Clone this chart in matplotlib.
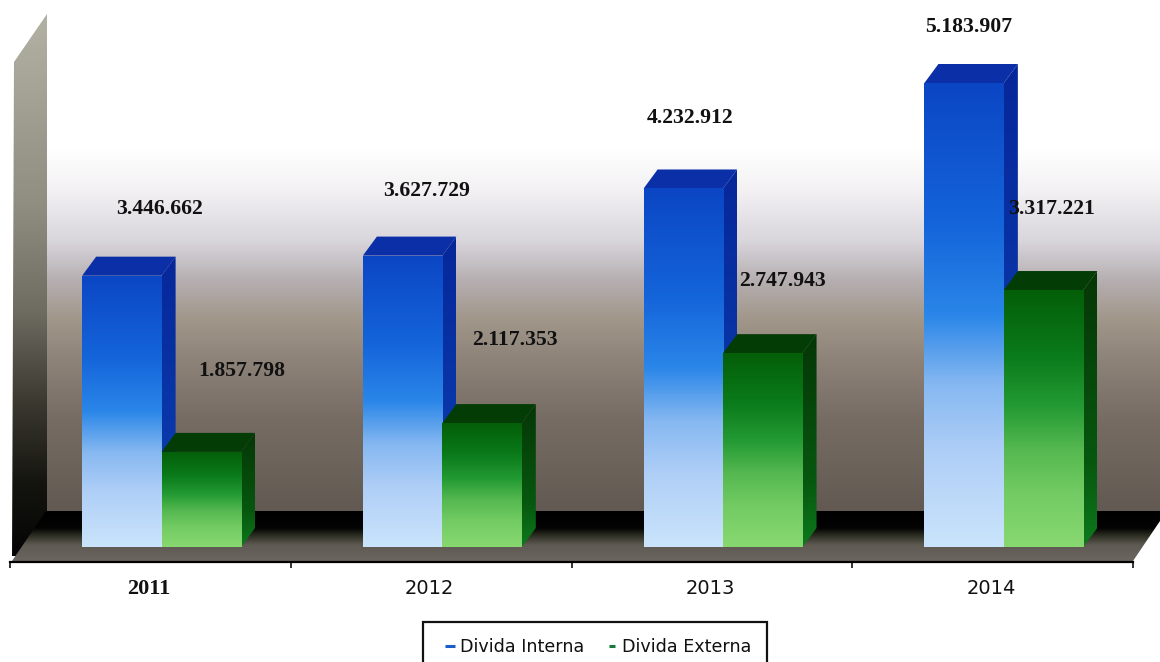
import numpy as np
import matplotlib
matplotlib.use("Agg")
import matplotlib.pyplot as plt
from matplotlib.colors import LinearSegmentedColormap, to_rgb
from matplotlib.lines import Line2D
from matplotlib.patches import Polygon, Rectangle

# Chart values
years = ["2011", "2012", "2013", "2014"]
divida_interna = [3446662, 3627729, 4232912, 5183907]
divida_externa = [1857798, 2117353, 2747943, 3317221]
series_names = ["Divida Interna", "Divida Externa"]

# Label offsets from the front top corner centre, in pixels
interna_label_offset = [(38, 67), (24, 65), (7, 70), (5, 56)]
externa_label_offset = [(40, 81), (33, 83), (20, 72), (8, 81)]

W, H, DPI = 1160, 662, 100
PX_PER_UNIT = 1.109e-4      # vertical pixels per unit of debt
BASE = 1_000_000            # value at which the columns start
BASE_PX = 547               # image row of that value
AX_L, AX_R, AX_B = 10, 1133, 562
BAR_W = 0.283
GROUP_SHIFT = 0.54
DEPTH_PX = (14, 19)

fig = plt.figure(figsize=(W / DPI, H / DPI), dpi=DPI, facecolor="white")


def ramp(stops):
    return LinearSegmentedColormap.from_list("r", [(p, to_rgb(c)) for p, c in stops])


def vertical_fill(ax, extent, cmap, clip=None, zorder=1):
    img = ax.imshow(np.linspace(0, 1, 256)[:, None], extent=extent, cmap=cmap, vmin=0, vmax=1,
                    aspect="auto", origin="upper", interpolation="bilinear", zorder=zorder)
    if clip is not None:
        clip.set_transform(ax.transData)
        img.set_clip_path(clip)
    else:
        img.set_clip_on(False)
    return img


# Backdrop in pixel space: rear wall, side wall, floor
bg = fig.add_axes([0, 0, 1, 1], zorder=0)
bg.axis("off")

wall_top, wall_bottom = 0, 511
def wall_pos(y):
    return (y - wall_top) / (wall_bottom - wall_top)

wall = ramp([(0, "#ffffff"), (wall_pos(150), "#ffffff"), (wall_pos(190), "#f3f1f3"),
             (wall_pos(240), "#d9d6dc"), (wall_pos(280), "#b6afb1"), (wall_pos(320), "#a09689"),
             (wall_pos(360), "#8d8379"), (wall_pos(420), "#766c64"), (1, "#625a52")])
vertical_fill(bg, (46, W, wall_bottom, wall_top), wall, Rectangle((46, 0), W - 46, 511))

side = ramp([(0, "#b2b2a4"), (0.35, "#908d81"), (0.55, "#6e6b61"), (0.72, "#3a382f"),
             (0.87, "#14140f"), (1, "#040404")])
vertical_fill(bg, (11, 47, 556, 14), side,
              Polygon([(14, 62), (47, 14), (47, 535), (12, 561)], closed=True))

floor = ramp([(0, "#000000"), (0.34, "#030303"), (0.48, "#2a2b20"), (0.68, "#5e5a52"), (1, "#6b6661")])
vertical_fill(bg, (11, W, 561, 511), floor,
              Polygon([(12, 561), (46, 511), (W, 511), (W, 521), (1133, 561)], closed=True))
bg.set_xlim(0, W)
bg.set_ylim(H, 0)

# Main axes: categories across, debt upward
ax = fig.add_axes([AX_L / W, 1 - AX_B / H, (AX_R - AX_L) / W, AX_B / H], zorder=1)
ax.patch.set_visible(False)

y_low = BASE - (AX_B - BASE_PX) / PX_PER_UNIT
y_high = BASE + BASE_PX / PX_PER_UNIT
dx = DEPTH_PX[0] / ((AX_R - AX_L) / 4)
dy = DEPTH_PX[1] / PX_PER_UNIT

front_maps = [
    ramp([(0, "#0b46c4"), (0.3, "#1464da"), (0.5, "#2a86e8"), (0.65, "#86b8f1"),
          (0.8, "#b0cff7"), (1, "#cae4fb")]),
    ramp([(0, "#045f08"), (0.25, "#0a7a1a"), (0.45, "#239a33"), (0.62, "#55b850"),
          (0.8, "#74cc64"), (1, "#88d870")]),
]
top_colors = ["#0b2fa6", "#043c06"]
side_maps = [ramp([(0, "#06279a"), (0.75, "#0a3cae"), (1, "#0c52c4")]),
             ramp([(0, "#053606"), (0.7, "#07580f"), (1, "#0c7a1c")])]


def draw_column(left, value, idx, z):
    right = left + BAR_W
    # top face
    ax.add_patch(Polygon([(left, value), (left + dx, value + dy), (right + dx, value + dy), (right, value)],
                         closed=True, fc=top_colors[idx], ec="none", zorder=z))
    # side face
    clip = Polygon([(right, BASE), (right + dx, BASE + dy), (right + dx, value + dy), (right, value)], closed=True)
    vertical_fill(ax, (right, right + dx, BASE, value + dy), side_maps[idx], clip, zorder=z)
    # front face
    vertical_fill(ax, (left, right, BASE, value), front_maps[idx],
                  Rectangle((left, BASE), BAR_W, value - BASE), zorder=z + 0.1)


for i in range(len(years)):
    c = i + GROUP_SHIFT
    draw_column(c - BAR_W, divida_interna[i], 0, 3 + i)
    draw_column(c, divida_externa[i], 1, 3.5 + i)

    for value, xpos, off in ((divida_interna[i], c - BAR_W / 2, interna_label_offset[i]),
                             (divida_externa[i], c + BAR_W / 2, externa_label_offset[i])):
        ax.annotate(f"{value:,}".replace(",", "."), xy=(xpos, value), xytext=off,
                    textcoords="offset pixels", ha="center", va="center", zorder=20,
                    family="Liberation Serif", weight="bold", size=15.7, color="#111111")

ax.set_xlim(0, 4)
ax.set_ylim(y_low, y_high)
ax.set_yticks([])
for s in ("left", "right", "top"):
    ax.spines[s].set_visible(False)
ax.spines["bottom"].set_linewidth(1.6)

ax.set_xticks(range(5))
ax.set_xticklabels([])
ax.tick_params(axis="x", which="major", length=4.5, width=1.2, color="#111111")
ax.set_xticks(np.arange(4) + 0.495, labels=years, minor=True)
ax.tick_params(axis="x", which="minor", length=0, pad=12.5, labelsize=14, labelcolor="#111111")
first = ax.get_xticklabels(minor=True)[0]
first.set_fontfamily("Liberation Serif")
first.set_fontweight("bold")
first.set_fontsize(16)

# Legend box runs off the lower edge of the figure
handles = [Line2D([], [], ls="none", marker="_", ms=6.5, mew=2.2, color="#1a5cc8", label=series_names[0]),
           Line2D([], [], ls="none", marker="_", ms=4.5, mew=2.2, color="#157a3c", label=series_names[1])]
leg = fig.legend(handles=handles, loc="upper left", bbox_to_anchor=(423 / W, 1 - 622 / H),
                 borderaxespad=0, ncol=2, frameon=True, fancybox=False, edgecolor="#111111",
                 framealpha=1, fontsize=12.6, numpoints=1, handlelength=1.27, handletextpad=-0.08,
                 columnspacing=1.0, borderpad=0.9, labelcolor="#111111")
leg.get_frame().set_linewidth(1.6)

fig.savefig("out.png", dpi=DPI)
